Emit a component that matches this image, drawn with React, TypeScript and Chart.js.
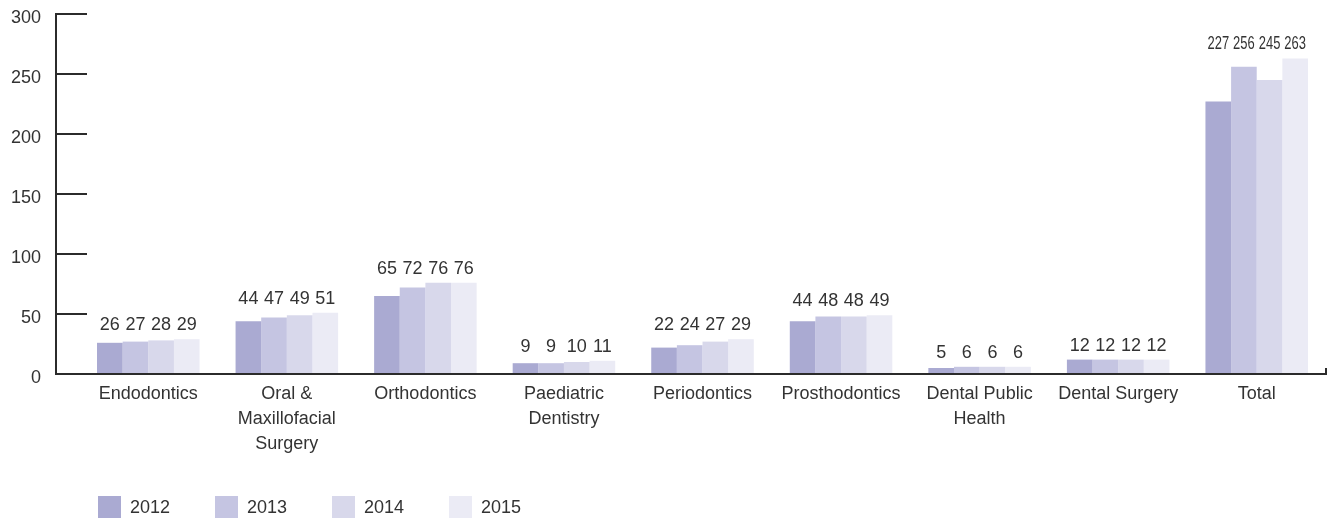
import { useEffect, useRef } from "react";
import { Chart, registerables } from "chart.js";

Chart.register(...registerables);

const categories: string[][] = [
  ["Endodontics"],
  ["Oral &", "Maxillofacial", "Surgery"],
  ["Orthodontics"],
  ["Paediatric", "Dentistry"],
  ["Periodontics"],
  ["Prosthodontics"],
  ["Dental Public", "Health"],
  ["Dental Surgery"],
  ["Total"],
];
const years = ["2012", "2013", "2014", "2015"];
const v2012 = [26, 44, 65, 9, 22, 44, 5, 12, 227];
const v2013 = [27, 47, 72, 9, 24, 48, 6, 12, 256];
const v2014 = [28, 49, 76, 10, 27, 48, 6, 12, 245];
const v2015 = [29, 51, 76, 11, 29, 49, 6, 12, 263];
const seriesValues = [v2012, v2013, v2014, v2015];
const colors = ["#aaaad2", "#c5c5e2", "#d8d8eb", "#ebebf5"];
const yMin = 0;
const yMax = 300;
const yStep = 50;

const FONT = "Liberation Sans, Arial, sans-serif";
const TEXT = "#333333";

const decorPlugin = {
  id: "decor",
  afterDatasetsDraw(chart: any) {
    const ctx = chart.ctx as CanvasRenderingContext2D;
    const y = chart.scales.y;
    const area = chart.chartArea;
    const axisX = area.left - 23;
    const y0 = y.getPixelForValue(yMin);
    ctx.save();
    ctx.strokeStyle = "#2b2b2b";
    ctx.lineWidth = 2;
    // vertical axis
    ctx.beginPath();
    ctx.moveTo(axisX, y.getPixelForValue(yMax) - 1);
    ctx.lineTo(axisX, y0);
    ctx.stroke();
    // ticks
    for (let v = yMin + yStep; v <= yMax; v += yStep) {
      const py = Math.round(y.getPixelForValue(v));
      ctx.beginPath();
      ctx.moveTo(axisX, py);
      ctx.lineTo(axisX + 31, py);
      ctx.stroke();
    }
    // horizontal axis
    ctx.beginPath();
    ctx.moveTo(axisX - 1, y0);
    ctx.lineTo(area.right, y0);
    ctx.lineTo(area.right, y0 - 6);
    ctx.stroke();

    // value labels
    ctx.font = `18px ${FONT}`;
    ctx.fillStyle = TEXT;
    ctx.textAlign = "center";
    ctx.textBaseline = "alphabetic";
    const metas = seriesValues.map((_, d) => chart.getDatasetMeta(d));
    for (let i = 0; i < categories.length; i++) {
      const groupMax = Math.max(...seriesValues.map((s) => s[i]));
      const base = y.getPixelForValue(groupMax) - 9;
      seriesValues.forEach((s, d) => {
        const bar = metas[d].data[i];
        const txt = String(s[i]);
        const w = ctx.measureText(txt).width;
        const maxW = bar.width - 4;
        ctx.save();
        ctx.translate(bar.x, base);
        if (w > maxW) ctx.scale(maxW / w, 1);
        ctx.fillText(txt, 0, 0);
        ctx.restore();
      });
    }

    // legend
    const lx = 98;
    const ly = 496;
    ctx.textAlign = "left";
    ctx.textBaseline = "middle";
    years.forEach((yr, d) => {
      const bx = lx + d * 117;
      ctx.fillStyle = colors[d];
      ctx.fillRect(bx, ly, 23, 22);
      ctx.fillStyle = TEXT;
      ctx.fillText(yr, bx + 32, ly + 12);
    });
    ctx.restore();
  },
};

export default function App() {
  const ref = useRef<HTMLCanvasElement | null>(null);
  useEffect(() => {
    if (!ref.current) return;
    const chart = new Chart(ref.current, {
      type: "bar",
      data: {
        labels: categories,
        datasets: years.map((yr, d) => ({
          label: yr,
          data: seriesValues[d],
          backgroundColor: colors[d],
          borderWidth: 0,
          categoryPercentage: 0.74,
          barPercentage: 1.0,
        })),
      },
      options: {
        animation: false,
        responsive: true,
        maintainAspectRatio: false,
        layout: { padding: { left: 0, right: 12, top: 14, bottom: 0 } },
        plugins: {
          legend: { display: false },
          tooltip: { enabled: false },
        },
        scales: {
          x: {
            grid: { display: false, drawTicks: false },
            border: { display: false },
            ticks: {
              color: TEXT,
              font: { family: FONT, size: 18, lineHeight: 1.38 },
              maxRotation: 0,
              autoSkip: false,
              padding: 8,
            },
            afterFit: (s: any) => {
              s.height = 150;
            },
          },
          y: {
            min: yMin,
            max: yMax,
            grid: { display: false, drawTicks: false },
            border: { display: false },
            ticks: {
              stepSize: yStep,
              color: TEXT,
              font: { family: FONT, size: 18 },
              padding: 38,
              labelOffset: 4,
            },
            afterFit: (s: any) => {
              s.width = 79;
              s.paddingTop = 0;
              s.paddingBottom = 0;
            },
          },
        },
      },
      plugins: [decorPlugin],
    });
    return () => chart.destroy();
  }, []);
  return (
    <div style={{ position: "absolute", left: 0, top: 0, width: 1338, height: 524 }}>
      <canvas ref={ref} />
    </div>
  );
}
